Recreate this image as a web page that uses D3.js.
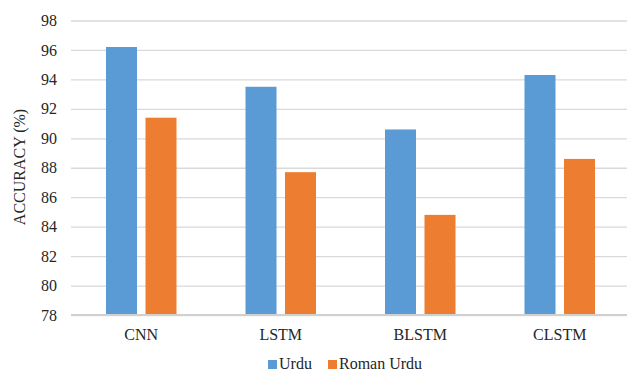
<!DOCTYPE html>
<html><head><meta charset="utf-8">
<script src="https://cdn.jsdelivr.net/npm/d3@7"></script>
<style>body{margin:0;background:#fff}svg{display:block}</style>
</head><body><svg id="c" width="627" height="371" font-family="Liberation Serif"></svg>
<script>
const categories = ["CNN","LSTM","BLSTM","CLSTM"];
const seriesNames = ["Urdu","Roman Urdu"];
const urdu = [96.2, 93.5, 90.6, 94.3];
const romanUrdu = [91.4, 87.7, 84.8, 88.6];
const yTicks = [78,80,82,84,86,88,90,92,94,96,98];
const colors = ["#5B9BD5","#ED7D31"];
const FONT = "Liberation Serif";

const svg = d3.select("#c");
const y = d3.scaleLinear().domain([78,98]).range([315,20.5]);
const x0 = d3.scaleBand().domain(categories).range([71.5,629.5]).paddingInner(0).paddingOuter(0);
const x1 = d3.scaleBand().domain(seriesNames).range([34.5,105]).paddingInner(0.215);

const grid = d3.axisLeft(y).tickValues(yTicks).tickSize(-(627-71)).tickFormat("");
const g = svg.append("g").attr("transform","translate(71,0)").call(grid);
g.select(".domain").remove();
g.selectAll(".tick line").attr("stroke","#D9D9D9").attr("stroke-width",1.3);

const yl = svg.append("g").attr("transform","translate(57,0)").call(d3.axisLeft(y).tickValues(yTicks).tickSize(0).tickPadding(0));
yl.attr("font-family",FONT).attr("font-size",16);
yl.select(".domain").remove();
yl.selectAll("text").attr("fill","#262626");

const data = categories.map((c,i)=>({c, vals:[urdu[i], romanUrdu[i]]}));
const groups = svg.append("g").selectAll("g").data(data).join("g")
  .attr("transform",d=>`translate(${x0(d.c)},0)`);
groups.selectAll("rect").data(d=>d.vals.map((v,j)=>({v,s:seriesNames[j],j}))).join("rect")
  .attr("x",d=>x1(d.s)).attr("width",x1.bandwidth())
  .attr("y",d=>y(d.v)).attr("height",d=>y(78)-y(d.v))
  .attr("fill",d=>colors[d.j]);

svg.append("line").attr("x1",71).attr("x2",627).attr("y1",y(78)).attr("y2",y(78))
  .attr("stroke","#D0D0D0").attr("stroke-width",2);

const xl = svg.append("g").attr("transform",`translate(0,${y(78)})`).call(d3.axisBottom(x0).tickSize(0).tickPadding(14));
xl.attr("font-family",FONT).attr("font-size",16);
xl.select(".domain").remove();
xl.selectAll("text").attr("fill","#262626");

svg.append("text").attr("transform","translate(25,167) rotate(-90)").attr("text-anchor","middle")
  .attr("font-family",FONT).attr("font-size",16).attr("fill","#262626").text("ACCURACY (%)");

const legX = [268, 328];
seriesNames.forEach((s,i)=>{
  svg.append("rect").attr("x",legX[i]).attr("y",360).attr("width",9).attr("height",9).attr("fill",colors[i]);
  svg.append("text").attr("x",legX[i]+11).attr("y",369).attr("font-family",FONT).attr("font-size",16)
    .attr("fill","#262626").text(s);
});
</script></body></html>
